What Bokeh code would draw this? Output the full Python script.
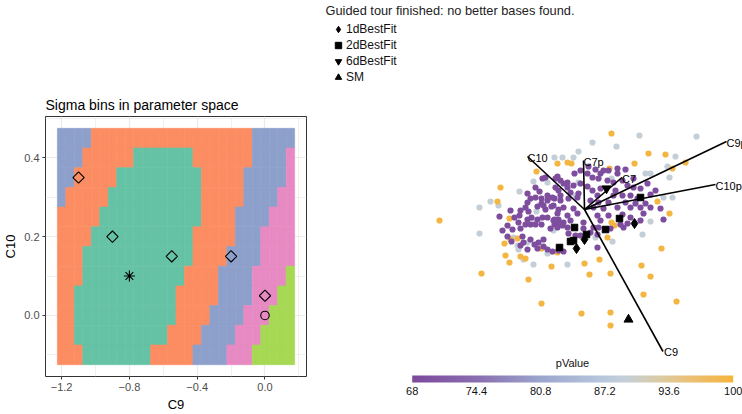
import numpy as np
from bokeh.plotting import figure
from bokeh.layouts import row
from bokeh.models import (ColumnDataSource, FixedTicker, LinearColorMapper, ColorBar,
                          Legend, LegendItem, Label, CustomJSTickFormatter)
from bokeh.core.properties import value
from bokeh.embed import file_html
from bokeh.resources import INLINE

FONT = "Liberation Sans"

# ---------------- left panel: sigma bins on a C9 x C10 grid ----------------
c9_grid = [-1.20, -1.15, -1.10, -1.05, -1.00, -0.95, -0.90, -0.85, -0.80, -0.75,
           -0.70, -0.65, -0.60, -0.55, -0.50, -0.45, -0.40, -0.35, -0.30, -0.25,
           -0.20, -0.15, -0.10, -0.05, 0.00, 0.05, 0.10, 0.15]
c10_grid = [0.45, 0.40, 0.35, 0.30, 0.25, 0.20, 0.15, 0.10, 0.05, 0.00, -0.05, -0.10]
# sigma bin per grid row, run-length encoded from left (C9=-1.2) to right (C9=0.15)
sigma_runs = [
    [("B", 4), ("O", 19), ("B", 5)],
    [("B", 3), ("O", 6), ("G", 7), ("O", 7), ("B", 4), ("P", 1)],
    [("B", 2), ("O", 5), ("G", 10), ("O", 5), ("B", 5), ("P", 1)],
    [("B", 1), ("O", 5), ("G", 11), ("O", 5), ("B", 4), ("P", 2)],
    [("O", 5), ("G", 12), ("O", 4), ("B", 4), ("P", 3)],
    [("O", 4), ("G", 12), ("O", 5), ("B", 3), ("P", 4)],
    [("O", 3), ("G", 13), ("O", 4), ("B", 4), ("P", 4)],
    [("O", 3), ("G", 12), ("O", 4), ("B", 4), ("P", 4), ("L", 1)],
    [("O", 2), ("G", 12), ("O", 5), ("B", 4), ("P", 3), ("L", 2)],
    [("O", 2), ("G", 12), ("O", 4), ("B", 4), ("P", 3), ("L", 3)],
    [("O", 2), ("G", 11), ("O", 4), ("B", 4), ("P", 3), ("L", 4)],
    [("O", 3), ("G", 8), ("O", 5), ("B", 4), ("P", 3), ("L", 5)],
]
bin_colors = {"G": "#66C2A5", "O": "#FC8D62", "B": "#8DA0CB", "P": "#E78AC3", "L": "#A6D854"}

best_c9 = [-1.1, -0.9, -0.55, -0.2, 0.0]
best_c10 = [0.35, 0.2, 0.15, 0.15, 0.05]
sm_c9 = [0.0]
sm_c10 = [0.0]
fit_c9 = [-0.8]
fit_c10 = [0.1]

x_ticks = [-1.2, -0.8, -0.4, 0.0]
x_minor = [-1.0, -0.6, -0.2, 0.2]
y_ticks = [0.0, 0.2, 0.4]
y_minor = [-0.1, 0.1, 0.3, 0.5]

# ---------------- right panel: guided tour projection (units x100) ----------------
purple_x = [-42, -39, -27, -26, -45, -49, -43, -30, -57, -43, -37, -47, -39, -33, -26, -65, -85, -57, -53, -47,
            -42, -37, -30, -26, -66, -59, -54, -49, -43, -30, -26, -72, -64, -34, -77, -62, -54, -41, -46, -50,
            -41, -37, -32, -57, 11, 19, 33, 41, 3, 8, 14, 23, 29, -24, -21, -29, -17, -11, -4, 3,
            8, 16, 43, 49, 56, 63, -14, -6, 13, 29, 38, 46, 53, 66, -32, -24, -16, 6, 14, 24,
            41, 51, 61, -31, -21, -11, 9, 19, 33, 46, 56, 66, 76, -27, -17, -7, 13, 24, 38, 46,
            59, -31, -21, -14, -1, 16, 43, 56, 79, -27, -17, -1, 26, 39, -16, -9, -4, 9, 14, 36,
            -21, 13, -22, 6, 13, -29, -17, -10, 16, 24, 33, -57, -77, -61, -26, 4, -4, 71, -70,
            -74, -64, -82, -73, -64, -47, -49, -37, -24, -54, -41, -59, -56, -7, 31, 38, 49]
purple_y = [31, 32, 33, 19, 18, 12, 11, 11, 7, 6, 9, 3, 0, 3, 0, -6, -7, -10, -8, -10,
            -8, -8, -10, -10, -13, -15, -15, -15, -15, -15, -14, -20, -19, -19, -27, -27, -30, -30, -33, -35,
            -37, -40, -42, -40, 40, 39, 36, 40, 36, 32, 31, 29, 27, 29, 26, 22, 22, 24, 26, 23,
            19, 21, 24, 22, 21, 26, 17, 16, 14, 14, 14, 14, 11, 15, 12, 9, 11, 9, 7, 7,
            7, 6, 6, 4, 2, 1, 2, 1, 2, 2, 2, 2, 1, -4, -6, -4, -6, -6, -5, -8,
            -4, -11, -13, -11, -13, -11, -14, -11, -10, -18, -18, -19, -19, -18, -24, -26, -26, -18, -18, -15,
            -42, -38, -16, -23, -25, 31, 27, 36, 36, 39, 41, 16, -16, -33, -41, 43, 39, 19, -8,
            -1, -1, -21, -32, -36, -39, 22, 14, 14, 11, 4, 2, -2, 12, 19, 29, 31]
grey_x = [55, 112, 8, -6, 32, 91, 83, -22, -11, -51, -37, -65, -94, -86, -105, -105, -31, -71, -57, -67,
          -66, -37, -61, -51, -17, 11, 28, 58, 66, 85, 79, 61, 66, 88, -9, 27, -48, -50, -6, -30]
grey_y = [74, 73, 67, 58, 63, 53, 43, 52, 52, 28, 27, 18, 8, 4, 2, -24, -21, -28, -33, -36,
          -40, -44, -50, -55, -55, -28, -32, -25, -12, 32, 12, 36, 36, 12, 14, 31, -2, -11, 27, 52]
orange_x = [27, 64, 81, 101, 88, -27, -17, -13, -48, -84, -87, -145, -75, 50, 25, 73, 85, 77, 57, 66,
            59, 92, 26, 15, 5, 0, -33, -56, -103, -75, -79, -64, -59, -43, -3, 26, 26, -80, -74, -67,
            -43, -27, 27, 30, 23]
orange_y = [76, 56, 55, 47, 41, 46, 47, 46, 38, 22, 8, -11, -9, 46, 41, 8, -4, -39, -56, -67,
            -85, -92, -64, -50, -65, -54, -57, -70, -64, -53, -46, -47, -49, -94, -104, -103, -116, -34, -30, -29,
            -39, -43, -13, -16, -28]
purple_p, grey_p, orange_p = 68.5, 89.0, 99.5

fit1d_x, fit1d_y = [50, 0, -8], [-14, -30, -39]
fit2d_x = [56, 35, -10, 21, 2, -14, -11, -25]
fit2d_y = [12, -9, -18, -20, -25, -32, -31, -38]
fit6d_x, fit6d_y = [22], [21]
smp_x, smp_y = [44], [-110]

axis_names = ["C10", "C7p", "C7", "C9p", "C10p"]
axis_x = [-57, -1, 37.5, 142, 131]
axis_y = [53, 49, 32, 68, 25]
axis2_names = ["C9"]
axis2_x = [78.5]
axis2_y = [-142]

pvalue_ticks = [68, 74.4, 80.8, 87.2, 93.6, 100]

# ---------------- left figure ----------------
left = figure(width=315, height=414, x_range=(-1.295, 0.245), y_range=(-0.155, 0.505),
              output_backend="svg", toolbar_location=None,
              min_border_left=42, min_border_right=9, min_border_top=116, min_border_bottom=35,
              title="Sigma bins in parameter space")
left.title.text_font = FONT
left.title.text_font_size = "14px"
left.title.text_font_style = "normal"
left.title.text_color = "#000000"
left.title.standoff = 8
left.title.offset = 0
left.outline_line_color = "#333333"
left.outline_line_width = 1

cx, cy, cc = [], [], []
for yv, runs in zip(c10_grid, sigma_runs):
    codes = "".join(k * n for k, n in runs)
    assert len(codes) == len(c9_grid)
    for xv, k in zip(c9_grid, codes):
        cx.append(xv); cy.append(yv); cc.append(bin_colors[k])
src = ColumnDataSource(dict(x=cx, y=cy, c=cc))
left.rect(x="x", y="y", width=0.05, height=0.05, fill_color="c", line_color="c",
          line_width=0.6, source=src)

left.scatter(best_c9, best_c10, marker="square", angle=np.pi / 4, size=8,
             fill_color=None, line_color="black", line_width=1.1)
left.scatter(sm_c9, sm_c10, marker="circle", size=8.5, fill_color=None,
             line_color="black", line_width=1.1)
left.scatter(fit_c9, fit_c10, marker="asterisk", size=11, line_color="black", line_width=1.1)

fmt = CustomJSTickFormatter(code="return tick.toFixed(1).replace('-', '\u2212')")
left.xaxis.ticker = FixedTicker(ticks=x_ticks, minor_ticks=x_minor)
left.yaxis.ticker = FixedTicker(ticks=y_ticks, minor_ticks=y_minor)
left.xaxis.formatter = fmt
left.yaxis.formatter = fmt
left.xaxis.axis_label = "C9"
left.yaxis.axis_label = "C10"
for ax in (left.xaxis, left.yaxis):
    ax.axis_line_color = None
    ax.major_tick_line_color = "#333333"
    ax.major_tick_out = 3
    ax.major_tick_in = 0
    ax.minor_tick_line_color = None
    ax.major_label_text_font = FONT
    ax.major_label_text_font_size = "11px"
    ax.major_label_text_color = "#4D4D4D"
    ax.major_label_standoff = 2
    ax.axis_label_text_font = FONT
    ax.axis_label_text_font_size = "13px"
    ax.axis_label_text_font_style = "normal"
    ax.axis_label_text_color = "#000000"
    ax.axis_label_standoff = 3
for g in (left.xgrid, left.ygrid):
    g.grid_line_color = "#EBEBEB"
    g.grid_line_width = 1.2
    g.minor_grid_line_color = "#EBEBEB"
    g.minor_grid_line_width = 0.7

# ---------------- right figure ----------------
right = figure(width=427, height=414, x_range=(-2.69, 1.58), y_range=(-2.05, 2.09),
               output_backend="svg", toolbar_location=None,
               x_axis_location=None, y_axis_location=None,
               min_border_left=0, min_border_right=0, min_border_top=0, min_border_bottom=0)
right.outline_line_color = None
right.grid.visible = False

for p in (left, right):
    if "frame_align" in p.properties():
        p.frame_align = False


def interp_palette(anchors, n=256):
    pos = np.array([a[0] for a in anchors])
    rgb = np.array([[int(a[1][i:i + 2], 16) for i in (1, 3, 5)] for a in anchors], float)
    t = np.linspace(0, 1, n)
    cols = np.stack([np.interp(t, pos, rgb[:, k]) for k in range(3)], axis=1)
    return ["#%02x%02x%02x" % tuple(int(round(v)) for v in c) for c in cols]


palette = interp_palette([(0.0, "#7D4A9C"), (0.2, "#8A6DB0"), (0.4, "#9BA6CD"),
                          (0.6, "#B8C9DE"), (0.67, "#C6CFD6"), (0.78, "#DDCB9F"),
                          (0.86, "#EBC078"), (1.0, "#F5B53D")])
mapper = LinearColorMapper(palette=palette, low=68, high=100)


def pts(xs, ys, p):
    return ColumnDataSource(dict(x=np.array(xs) / 100, y=np.array(ys) / 100,
                                 p=[p] * len(xs)))


for xs, ys, p in ((grey_x, grey_y, grey_p), (orange_x, orange_y, orange_p),
                  (purple_x, purple_y, purple_p)):
    right.scatter("x", "y", source=pts(xs, ys, p), size=6.2,
                  fill_color={"field": "p", "transform": mapper}, line_color=None)

ax_all_x = np.array(axis_x + axis2_x) / 100
ax_all_y = np.array(axis_y + axis2_y) / 100
right.segment(x0=0, y0=0, x1=ax_all_x, y1=ax_all_y, line_color="black", line_width=1.6)
right.text(x=np.array(axis_x) / 100, y=np.array(axis_y) / 100, text=axis_names,
           text_font=value(FONT), text_font_size="11px", text_color="black",
           text_align="left", text_baseline="alphabetic", y_offset=1)
right.text(x=np.array(axis2_x) / 100, y=np.array(axis2_y) / 100, text=axis2_names,
           text_font=value(FONT), text_font_size="11px", text_color="black",
           text_align="left", text_baseline="middle", x_offset=1)

r1 = right.scatter(np.array(fit1d_x) / 100, np.array(fit1d_y) / 100, marker="diamond",
                   size=10, color="black")
r2 = right.scatter(np.array(fit2d_x) / 100, np.array(fit2d_y) / 100, marker="square",
                   size=6.5, color="black")
r6 = right.scatter(np.array(fit6d_x) / 100, np.array(fit6d_y) / 100, marker="inverted_triangle",
                   size=9, color="black")
rs = right.scatter(np.array(smp_x) / 100, np.array(smp_y) / 100, marker="triangle",
                   size=9, color="black")

legend = Legend(items=[LegendItem(label="1dBestFit", renderers=[r1]),
                       LegendItem(label="2dBestFit", renderers=[r2]),
                       LegendItem(label="6dBestFit", renderers=[r6]),
                       LegendItem(label="SM", renderers=[rs])],
                location=(15, 329), padding=0, margin=0, spacing=0,
                glyph_width=16, glyph_height=16, label_height=16, label_standoff=-2,
                label_text_font=FONT, label_text_font_size="12px", label_text_color="#111111",
                background_fill_alpha=0, border_line_color=None)
right.add_layout(legend)

right.add_layout(Label(x=-2.59, y=1.995, text="Guided tour finished: no better bases found.",
                       text_font=FONT, text_font_size="12.8px", text_color="#222222",
                       text_baseline="alphabetic", text_align="left"))
right.add_layout(Label(x=-0.12, y=-1.535, text="pValue", text_font=FONT,
                       text_font_size="11px", text_color="#111111",
                       text_baseline="middle", text_align="center"))

cbar = ColorBar(color_mapper=mapper, orientation="horizontal", location=(96.7, 17),
                width=321, height=7, padding=0,
                ticker=FixedTicker(ticks=pvalue_ticks),
                formatter=CustomJSTickFormatter(code="return String(tick)"),
                major_label_text_font=FONT, major_label_text_font_size="11px",
                major_label_text_color="#111111", major_tick_line_color=None,
                minor_tick_line_color=None, bar_line_color=None, border_line_color=None,
                background_fill_alpha=0, label_standoff=4)
right.add_layout(cbar)

layout = row(left, right)
open("out.html", "w").write(file_html(layout, INLINE))
